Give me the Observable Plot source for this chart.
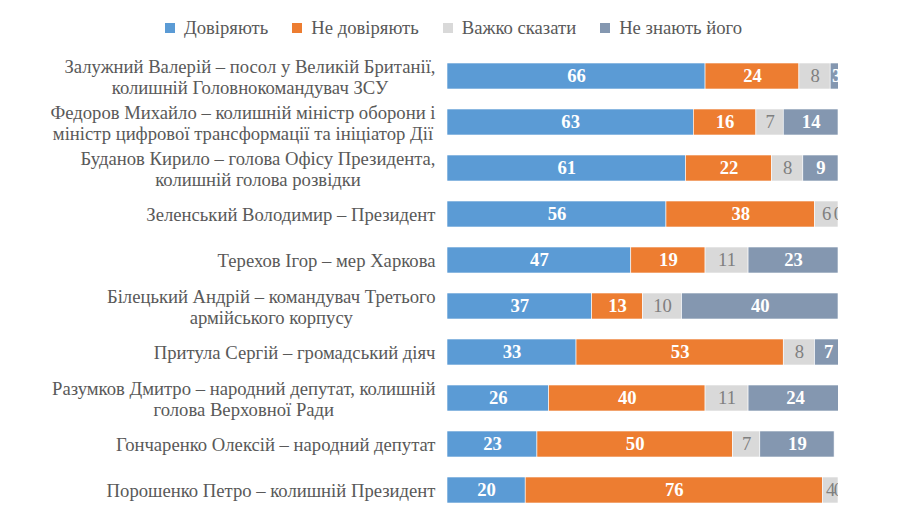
<!DOCTYPE html>
<html>
<head>
<meta charset="utf-8">
<script src="https://cdn.jsdelivr.net/npm/d3@7"></script>
<script src="https://cdn.jsdelivr.net/npm/@observablehq/plot@0.6"></script>
<style>
  html, body { margin: 0; padding: 0; background: #fff; }
  body { width: 907px; height: 518px; overflow: hidden; }
  #legend { height: 50px; display: flex; justify-content: center; align-items: center; gap: 24px; color: #595959; box-sizing: border-box; padding-top: 6px; }
  #legend .item { display: flex; align-items: center; gap: 9px; }
  #legend .sw { width: 10px; height: 10px; display: inline-block; }
</style>
</head>
<body>
<div id="legend"></div>
<div id="chart"></div>
<script>
const FONT = "Liberation Serif";
const categories = [
  "Залужний Валерій – посол у Великій Британії,\nколишній Головнокомандувач ЗСУ",
  "Федоров Михайло – колишній міністр оборони і\nміністр цифрової трансформації та ініціатор Дії",
  "Буданов Кирило – голова Офісу Президента,\nколишній голова розвідки",
  "Зеленський Володимир – Президент",
  "Терехов Ігор – мер Харкова",
  "Білецький Андрій – командувач Третього\nармійського корпусу",
  "Притула Сергій – громадський діяч",
  "Разумков Дмитро – народний депутат, колишній\nголова Верховної Ради",
  "Гончаренко Олексій – народний депутат",
  "Порошенко Петро – колишній Президент"
];
const seriesNames = ["Довіряють", "Не довіряють", "Важко сказати", "Не знають його"];
const trust    = [66, 63, 61, 56, 47, 37, 33, 26, 23, 20];
const distrust = [24, 16, 22, 38, 19, 13, 53, 40, 50, 76];
const hard     = [ 8,  7,  8,  6, 11, 10,  8, 11,  7,  4];
const unknown  = [ 3, 14,  9,  0, 23, 40,  7, 24, 19,  0];
const colors = ["#5B9BD5", "#ED7D31", "#D9D9D9", "#8497B0"];

const seriesValues = [trust, distrust, hard, unknown];
const data = [];
categories.forEach((c, i) => {
  seriesNames.forEach((s, j) => {
    data.push({name: c, series: s, value: seriesValues[j][i]});
  });
});
const isPlain = d => d.series === "Важко сказати" || d.value === 0;

// legend
const legend = document.getElementById("legend");
legend.style.fontSize = "18.67px";
seriesNames.forEach((s, j) => {
  const it = document.createElement("div");
  it.className = "item";
  it.style.fontFamily = `"${FONT}", serif`;
  it.innerHTML = `<span class="sw" style="background:${colors[j]}"></span>${s}`;
  legend.appendChild(it);
});

const chart = Plot.plot({
  width: 907,
  height: 468,
  marginLeft: 447,
  marginRight: 69,
  marginTop: 2,
  marginBottom: 4,
  style: {background: "#fff", fontFamily: `"${FONT}", serif`},
  x: {domain: [0, 100], axis: null},
  y: {domain: categories, paddingInner: 0.44, paddingOuter: 0.22, label: null},
  color: {domain: seriesNames, range: colors},
  marks: [
    Plot.axisY({tickSize: 0, tickPadding: 12, fontSize: 18.67, fontFamily: FONT, lineHeight: 1.13, fill: "#595959", tickFormat: d => d}),
    Plot.barX(data, Plot.stackX({x: "value", y: "name", z: "series", fill: "series", stroke: "#fff", strokeWidth: 0.6, clip: true})),
    Plot.text(data, Plot.stackX({
      x: "value", y: "name", z: "series",
      text: d => isPlain(d) ? "" : String(d.value),
      fill: "#fff",
      fontWeight: "bold",
      fontFamily: FONT,
      fontSize: 18.67
    })),
    Plot.text(data, Plot.stackX({
      x: "value", y: "name", z: "series",
      text: d => isPlain(d) ? String(d.value) : "",
      fill: "#7F7F7F",
      fontFamily: FONT,
      fontSize: 18.67,
      clip: true
    }))
  ]
});
document.getElementById("chart").appendChild(chart);
chart.querySelectorAll("text").forEach(t => { t.style.fontFamily = `"${FONT}", serif`; });

// center multi-line labels relative to each other (right-aligned block)
chart.querySelectorAll('[aria-label="y-axis tick label"] text').forEach(t => {
  const spans = t.querySelectorAll("tspan");
  if (spans.length < 2) return;
  const widths = Array.from(spans, s => s.getComputedTextLength());
  const maxW = Math.max(...widths);
  spans.forEach((s, k) => s.setAttribute("x", -(maxW - widths[k]) / 2));
});
</script>
</body>
</html>
